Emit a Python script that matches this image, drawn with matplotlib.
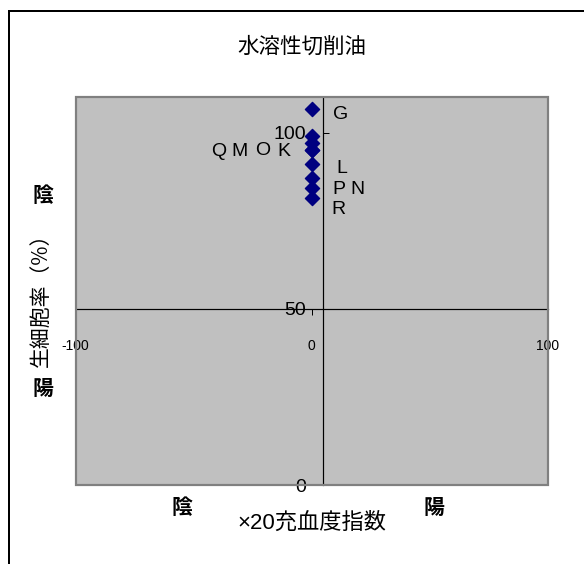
import matplotlib
matplotlib.use("Agg")
import matplotlib.pyplot as plt
from matplotlib.lines import Line2D
from matplotlib.patches import Rectangle

plt.rcParams['font.family'] = ['Liberation Sans', 'Noto Sans CJK JP', 'DejaVu Sans']

# data
labels = ["G", "K", "O", "M", "Q", "L", "P", "N", "R"]
hyperemia = [0, 0, 0, 0, 0, 0, 0, 0, 0]
viability = [106.6, 99.0, 97.1, 95.0, 95.0, 91.0, 87.2, 84.4, 81.4]
x_ticks = [-100, 0, 100]
y_ticks = [0, 50, 100]

title = "水溶性切削油"
x_title = "×20充血度指数"
y_title = "生細胞率（%）"

# label offsets (pixels, x right / y up) from each point
label_offsets = {
    "G": (29, -5), "K": (-28, -15), "O": (-49, -8), "M": (-72, -1),
    "Q": (-93, -1), "L": (30, -4), "P": (27, -12), "N": (46, -2), "R": (27, -11),
}

W, H, DPI = 584, 564, 100
fig = plt.figure(figsize=(W / DPI, H / DPI), dpi=DPI)
px = 72 / DPI

L, R, T, B = 75.7, 547.7, 97.3, 485.0
ax = fig.add_axes([L / W, 1 - B / H, (R - L) / W, (B - T) / H])
ax.set_facecolor("#C0C0C0")
ax.set_xlim(-100, 100)
ax.set_ylim(0, 110)

# plot-area frame
ax.add_patch(Rectangle((0, 0), 1, 1, transform=ax.transAxes, fill=False,
                       edgecolor="#808080", lw=2.2 * px, zorder=5, clip_on=False))

# crossing axes
for s in ("top", "right"):
    ax.spines[s].set_visible(False)
ax.spines["bottom"].set_position(("data", 50))
ax.spines["left"].set_position(("data", 4.8))
ax.spines["bottom"].set_linewidth(1.2 * px)
ax.spines["left"].set_linewidth(1.2 * px)
ax.spines["bottom"].set_zorder(3)
ax.spines["left"].set_zorder(3)

ax.set_xticks(x_ticks)
ax.set_xticklabels([str(v) for v in x_ticks])
ax.set_yticks(y_ticks)
ax.set_yticklabels([str(v) for v in y_ticks])
ax.tick_params(axis="x", direction="out", length=6 * px, width=1 * px,
               pad=24 * px, labelsize=10)
ax.tick_params(axis="y", direction="in", length=6 * px, width=1 * px,
               pad=17 * px, labelsize=14)

ax.scatter(hyperemia, viability, marker="D", s=7.2 ** 2, color="#000080",
           zorder=6, clip_on=False)

for lab, xv, yv in zip(labels, hyperemia, viability):
    dx, dy = label_offsets[lab]
    ax.annotate(lab, (xv, yv), xytext=(dx, dy), textcoords="offset pixels",
                ha="center", va="center", fontsize=14, color="black", zorder=7)

# titles and side captions
def ftext(x, y, s, **kw):
    fig.text(x / W, 1 - y / H, s, ha="center", va="center", **kw)

ftext(302, 47, title, fontsize=15.5, family=["Noto Sans CJK JP"])
ftext(312, 523, x_title, fontsize=16, family=["Liberation Sans", "Noto Sans CJK JP"])
ftext(41, 295, y_title, fontsize=15, rotation=90, family=["Noto Sans CJK JP"])
ftext(182, 507, "陰", fontsize=15, weight="bold", family=["Noto Sans CJK JP"])
ftext(434, 507, "陽", fontsize=15, weight="bold", family=["Noto Sans CJK JP"])
ftext(43, 195, "陰", fontsize=15, weight="bold", family=["Noto Sans CJK JP"])
ftext(43, 388, "陽", fontsize=15, weight="bold", family=["Noto Sans CJK JP"])

# chart border (left and top edges)
fig.add_artist(Line2D([9 / W, 9 / W], [0, 1 - 11 / H], color="black", lw=2 * px))
fig.add_artist(Line2D([9 / W, 1], [1 - 11 / H, 1 - 11 / H], color="black", lw=2 * px))

fig.savefig("out.png", dpi=DPI)
